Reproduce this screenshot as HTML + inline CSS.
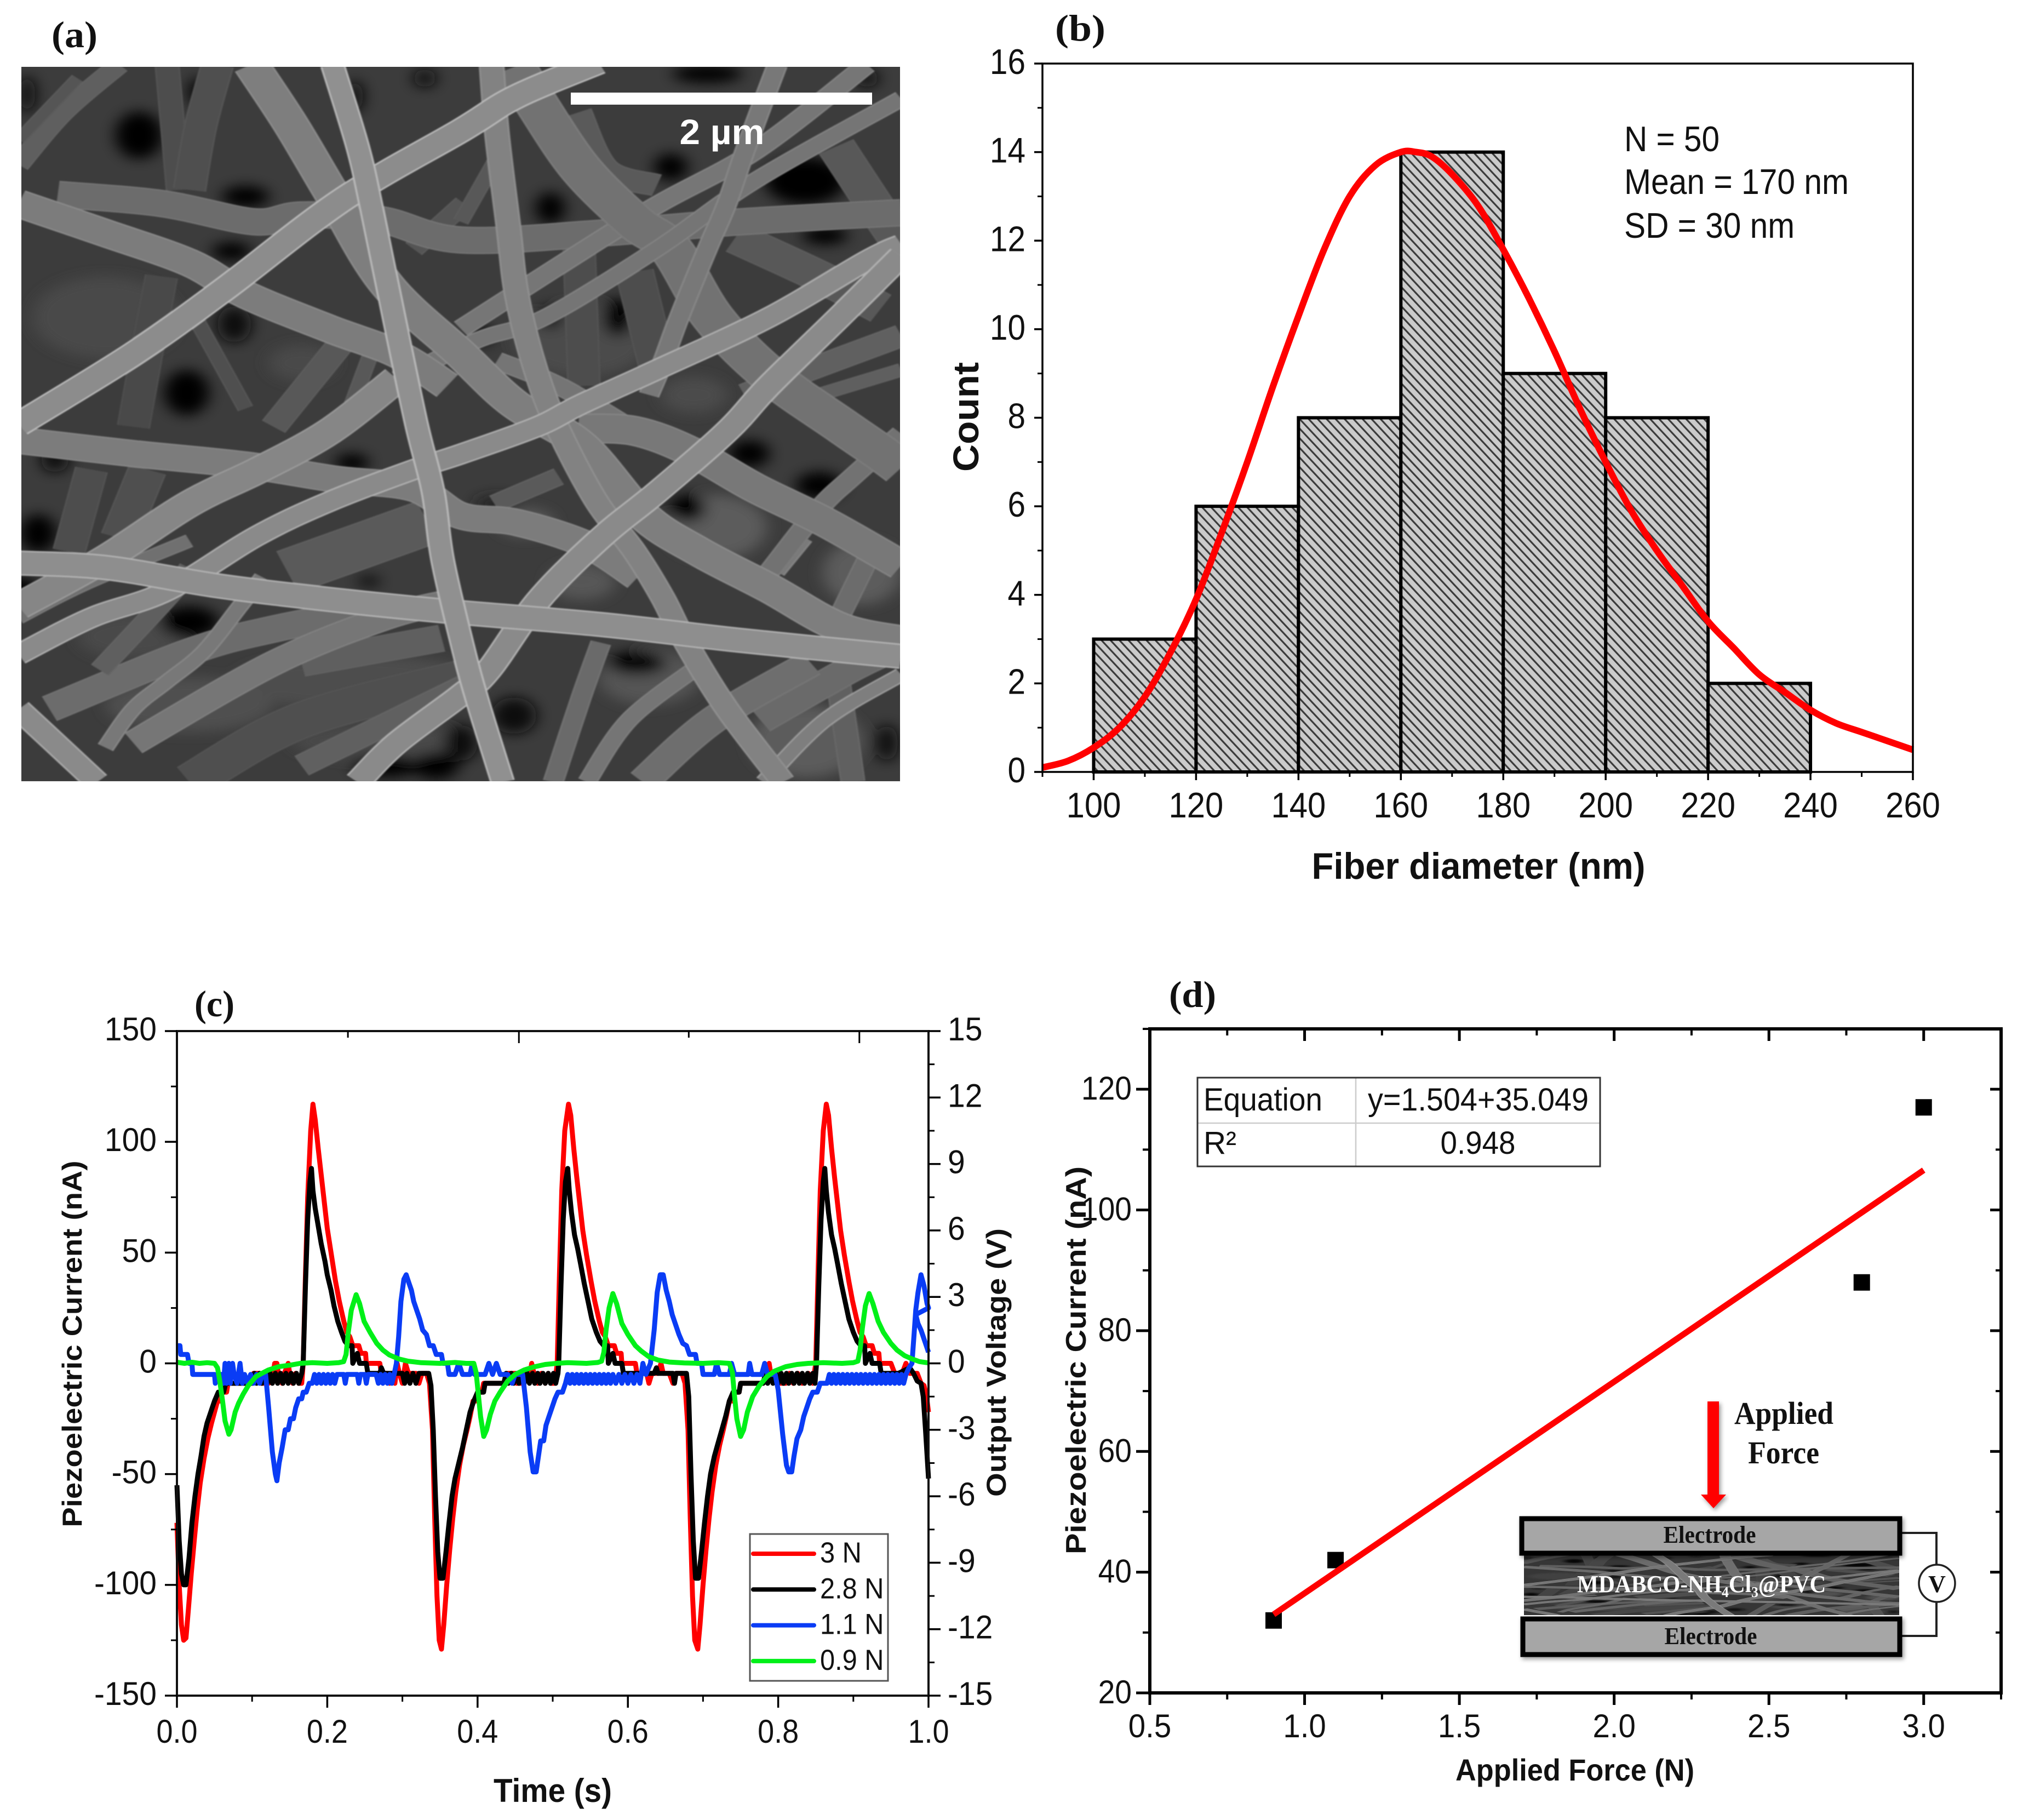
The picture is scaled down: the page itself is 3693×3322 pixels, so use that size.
<!DOCTYPE html>
<html lang="en">
<head>
<meta charset="utf-8">
<title>Fiber characterization and piezoelectric response</title>
<style>
html,body{margin:0;padding:0;background:#fff}
svg{display:block}
text{font-family:"Liberation Sans",sans-serif;fill:#111}
.serif{font-family:"Liberation Serif",serif;font-weight:bold}
.bold{font-weight:bold}
</style>
</head>
<body>
<svg id="fig" xmlns="http://www.w3.org/2000/svg" width="3693" height="3322" viewBox="0 0 3693 3322">
<defs>
  <pattern id="hatch" width="12" height="12" patternUnits="userSpaceOnUse" patternTransform="rotate(-43)">
    <rect width="12" height="12" fill="#cbcbcb"/>
    <rect x="0" width="3.2" height="12" fill="#3a3a3a"/>
  </pattern>
  <filter id="fiber-blur" x="-5%" y="-5%" width="110%" height="110%"><feGaussianBlur stdDeviation="1.3"/></filter>
  <filter id="patch-blur" x="-20%" y="-20%" width="140%" height="140%"><feGaussianBlur stdDeviation="14"/></filter>
  <filter id="shadow" x="-10%" y="-10%" width="120%" height="120%"><feDropShadow dx="3" dy="4" stdDeviation="4" flood-color="#000" flood-opacity=".4"/></filter>
  <clipPath id="sem-clip"><rect x="0" y="0" width="1568" height="1568"/></clipPath>
  <g id="sem-image" clip-path="url(#sem-clip)">
    <rect x="0" y="0" width="1568" height="1568" fill="#3c3c3c"/>
    <g id="sem-patches" filter="url(#patch-blur)"></g>
    <g id="sem-fibers" filter="url(#fiber-blur)"></g>
  </g>
</defs>

<!-- panel a -->
<text class="serif" x="94" y="86" font-size="68" textLength="84" lengthAdjust="spacingAndGlyphs">(a)</text>
<use href="#sem-image" transform="translate(39,122) scale(1.023,.8316)"/>
<rect x="1042" y="169" width="550" height="22" fill="#fff"/>
<text class="bold" x="1318" y="263" text-anchor="middle" font-size="64" style="fill:#fff" textLength="155" lengthAdjust="spacingAndGlyphs">2 µm</text>

<!-- panel b -->
<text class="serif" x="1926" y="74" font-size="68" textLength="92" lengthAdjust="spacingAndGlyphs">(b)</text>
<g id="chart-b"></g>
<text class="bold" transform="translate(1786,761) rotate(-90)" text-anchor="middle" font-size="66" textLength="200" lengthAdjust="spacingAndGlyphs">Count</text>
<text class="bold" x="2699" y="1604" text-anchor="middle" font-size="68" textLength="609" lengthAdjust="spacingAndGlyphs">Fiber diameter (nm)</text>
<text x="2965" y="276" font-size="65" textLength="174" lengthAdjust="spacingAndGlyphs">N = 50</text>
<text x="2965" y="354" font-size="65" textLength="410" lengthAdjust="spacingAndGlyphs">Mean = 170 nm</text>
<text x="2965" y="434" font-size="65" textLength="311" lengthAdjust="spacingAndGlyphs">SD = 30 nm</text>

<!-- panel c -->
<text class="serif" x="355" y="1855" font-size="68" textLength="73" lengthAdjust="spacingAndGlyphs">(c)</text>
<g id="chart-c"></g>
<text class="bold" transform="translate(149,2453) rotate(-90)" text-anchor="middle" font-size="50" textLength="669" lengthAdjust="spacingAndGlyphs">Piezoelectric Current (nA)</text>
<text class="bold" transform="translate(1836,2487) rotate(-90)" text-anchor="middle" font-size="50" textLength="490" lengthAdjust="spacingAndGlyphs">Output Voltage (V)</text>
<text class="bold" x="1009" y="3289" text-anchor="middle" font-size="60" textLength="216" lengthAdjust="spacingAndGlyphs">Time (s)</text>
<g>
  <rect x="1369" y="2800" width="252" height="268" fill="#fff" stroke="#555" stroke-width="3"/>
  <g id="legend-entries"></g>
</g>

<!-- panel d -->
<text class="serif" x="2134" y="1838" font-size="68" textLength="86" lengthAdjust="spacingAndGlyphs">(d)</text>
<g id="chart-d"></g>
<text class="bold" transform="translate(1982,2483) rotate(-90)" text-anchor="middle" font-size="52" textLength="708" lengthAdjust="spacingAndGlyphs">Piezoelectric Current (nA)</text>
<text class="bold" x="2875" y="3250" text-anchor="middle" font-size="56" textLength="436" lengthAdjust="spacingAndGlyphs">Applied Force (N)</text>
<g>
  <rect x="2186" y="1967" width="735" height="162" fill="#fff"/>
  <line x1="2186" y1="2050" x2="2921" y2="2050" stroke="#ccc" stroke-width="2.5"/>
  <line x1="2475" y1="1967" x2="2475" y2="2129" stroke="#ccc" stroke-width="2.5"/>
  <rect x="2186" y="1967" width="735" height="162" fill="none" stroke="#333" stroke-width="3"/>
  <text x="2197" y="2027" font-size="58" textLength="217" lengthAdjust="spacingAndGlyphs">Equation</text>
  <text x="2497" y="2027" font-size="58" textLength="403" lengthAdjust="spacingAndGlyphs">y=1.504+35.049</text>
  <text x="2197" y="2106" font-size="58" textLength="60" lengthAdjust="spacingAndGlyphs">R²</text>
  <text x="2698" y="2106" text-anchor="middle" font-size="58" textLength="137" lengthAdjust="spacingAndGlyphs">0.948</text>
</g>
<g>
  <g filter="url(#shadow)">
    <polygon points="3117,2558 3138,2558 3138,2728 3151,2728 3128,2753 3105,2728 3117,2728" fill="#f00"/>
  </g>
  <text class="serif" x="3166" y="2599" font-size="58" textLength="181" lengthAdjust="spacingAndGlyphs">Applied</text>
  <text class="serif" x="3191" y="2671" font-size="58" textLength="130" lengthAdjust="spacingAndGlyphs">Force</text>
  <path d="M3472 2798H3535V2857M3535 2924V2986H3472" fill="none" stroke="#222" stroke-width="4"/>
  <ellipse cx="3536" cy="2890" rx="33" ry="34" fill="#fff" stroke="#222" stroke-width="3.5"/>
  <text class="serif" x="3536" y="2906" text-anchor="middle" font-size="44">V</text>
  <rect x="2782" y="2839" width="685" height="109" fill="#222"/>
  <use href="#sem-image" transform="translate(2782,2839) scale(.4369,.0695)" opacity=".8"/>
  <text class="serif" transform="translate(2879,2906) scale(.94,1)" font-size="44" style="fill:#fff">MDABCO-NH<tspan dy="9" font-size="27" style="fill:#fff">4</tspan><tspan dy="-9" style="fill:#fff">Cl</tspan><tspan dy="9" font-size="27" style="fill:#fff">3</tspan><tspan dy="-9" style="fill:#fff">@PVC</tspan></text>
  <g filter="url(#shadow)">
    <rect x="2778" y="2772" width="690" height="63" fill="#a6a6a6" stroke="#000" stroke-width="9"/>
    <rect x="2780" y="2955" width="688" height="65" fill="#a6a6a6" stroke="#000" stroke-width="9"/>
  </g>
  <text class="serif" x="3121" y="2816" text-anchor="middle" font-size="44" textLength="169" lengthAdjust="spacingAndGlyphs">Electrode</text>
  <text class="serif" x="3123" y="3001" text-anchor="middle" font-size="44" textLength="169" lengthAdjust="spacingAndGlyphs">Electrode</text>
</g>

<script>
/* ---------- panel b data ---------- */
const binStarts = [100,120,140,160,180,200,220];
const binCounts = [3,6,8,14,9,8,2];
const binSpan = 20;
const fitDiameter = [90,95,100,105,110,115,120,125,130,135,140,145,150,155,160,163,166,170,175,180,185,190,195,200,205,210,215,220,225,230,235,240,245,250,255,260];
const fitCount = [0.1,0.25,0.55,1.0,1.7,2.7,3.9,5.4,7.0,8.7,10.3,11.8,13.0,13.7,14.0,14.0,13.9,13.5,12.8,11.8,10.7,9.5,8.2,7.0,5.9,5.0,4.2,3.4,2.8,2.2,1.8,1.4,1.1,0.9,0.7,0.5];
const xTicksB = [100,120,140,160,180,200,220,240,260];
const xMinorB = [90,110,130,150,170,190,210,230,250];
const yTicksB = [0,2,4,6,8,10,12,14,16];
const yMinorB = [1,3,5,7,9,11,13,15];

/* ---------- panel c data ---------- */
const xTicksC = ['0.0','0.2','0.4','0.6','0.8','1.0'];
const xMinorC = [0.1,0.3,0.5,0.7,0.9];
const topTicksC = [0.2275,0.455,0.681,0.908];
const yTicksC = [-150,-100,-50,0,50,100,150];
const yMinorC = [-125,-75,-25,25,75,125];
const yTicksVolt = [-15,-12,-9,-6,-3,0,3,6,9,12,15];
const yMinorVolt = [-13.5,-10.5,-7.5,-4.5,-1.5,1.5,4.5,7.5,10.5,13.5];
const legendLabels = ['3 N','2.8 N','1.1 N','0.9 N'];
const seriesColors = ['#ff0000','#000000','#0a3cf5','#00f018'];

const series3N = [[0,-72],[.003,-100],[.006,-118],[.009,-125],[.012,-124],[.015,-112],[.019,-95],[.023,-80],[.027,-66],[.031,-54],[.036,-43],[.041,-34],[.046,-27],[.05,-22],[.054,-17],[.058,-17],[.06,-13],[.066,-13],[.068,-9],[.082,-9],[.1,-9],[.102,-4.5],[.11,-4.5],[.112,-9],[.122,-9],[.124,-4.5],[.128,-4.5],[.13,0],[.133,0],[.135,-4.5],[.14,-9],[.143,-4.5],[.148,0],[.15,-4.5],[.154,-9],[.158,-4.5],[.162,-9],[.166,-9],[.168,0],[.171,40],[.174,75],[.178,105],[.181,117],[.184,110],[.188,97],[.192,85],[.196,73],[.2,61],[.205,50],[.211,37],[.216,28],[.222,19],[.226,14],[.23,12],[.234,8],[.242,8],[.245,4.5],[.251,4.5],[.252,0],[.27,0],[.272,-4.5],[.28,-4.5],[.283,-9],[.286,-4.5],[.29,-9],[.293,0],[.296,-4.5],[.3,-9],[.304,0],[.308,-4.5],[.318,-4.5],[.322,-9],[.326,-4.5],[.332,-4.5],[.336,-9],[.34,-30],[.343,-70],[.346,-105],[.349,-125],[.352,-129],[.355,-118],[.359,-100],[.363,-84],[.367,-70],[.371,-58],[.376,-46],[.381,-37],[.386,-30],[.39,-24],[.394,-17],[.398,-17],[.4,-13],[.406,-13],[.408,-9],[.42,-9],[.436,-9],[.44,-4.5],[.45,-4.5],[.452,-9],[.46,-9],[.463,-4.5],[.47,-4.5],[.472,0],[.475,-4.5],[.48,-9],[.485,-4.5],[.49,-9],[.494,-4.5],[.498,-9],[.503,-9],[.506,0],[.509,40],[.512,78],[.516,105],[.521,117],[.524,112],[.528,97],[.532,84],[.536,72],[.54,60],[.545,49],[.551,37],[.556,28],[.562,19],[.566,14],[.57,12],[.574,8],[.582,8],[.585,4.5],[.591,4.5],[.592,0],[.61,0],[.612,-4.5],[.625,-4.5],[.628,-9],[.632,-4.5],[.64,-4.5],[.644,0],[.647,-4.5],[.655,-4.5],[.66,-9],[.664,-4.5],[.672,-4.5],[.676,-9],[.68,-30],[.683,-70],[.686,-105],[.689,-125],[.693,-129],[.696,-118],[.7,-100],[.704,-84],[.708,-70],[.712,-58],[.717,-46],[.722,-37],[.727,-30],[.731,-24],[.735,-17],[.74,-17],[.742,-13],[.748,-13],[.75,-9],[.78,-9],[.784,-4.5],[.788,0],[.79,-4.5],[.8,-4.5],[.803,-9],[.81,-9],[.815,-4.5],[.82,-9],[.826,-4.5],[.832,-9],[.84,-4.5],[.846,-9],[.85,0],[.853,40],[.856,78],[.86,105],[.864,117],[.867,112],[.871,97],[.875,84],[.879,72],[.883,60],[.888,49],[.894,37],[.899,28],[.905,19],[.909,14],[.913,12],[.917,8],[.925,8],[.928,4.5],[.934,4.5],[.935,0],[.95,0],[.955,-4.5],[.965,-4.5],[.97,0],[.975,-4.5],[.985,-4.5],[.99,-9],[.994,-10],[.997,-14],[1,-22]];

const series28N = [[0,-55],[.003,-80],[.006,-95],[.009,-100],[.012,-100],[.016,-88],[.02,-72],[.024,-60],[.028,-50],[.032,-42],[.036,-33],[.04,-27],[.045,-22],[.05,-17],[.055,-13],[.062,-13],[.065,-9],[.08,-9],[.1,-9],[.103,-4.5],[.106,-9],[.11,-4.5],[.113,-9],[.117,-4.5],[.12,-9],[.124,-4.5],[.127,-9],[.131,-4.5],[.134,-9],[.138,-4.5],[.141,-9],[.145,-4.5],[.148,-9],[.152,-4.5],[.155,-9],[.159,-4.5],[.162,-9],[.166,-4.5],[.168,0],[.171,35],[.174,65],[.177,82],[.179,88],[.181,78],[.184,70],[.188,62],[.192,54],[.197,46],[.2,40],[.205,33],[.209,26],[.214,19],[.219,14],[.2235,10],[.228,8],[.233,8],[.234,0],[.24,4.5],[.243,0],[.252,0],[.254,-4.5],[.27,-4.5],[.272,-2],[.275,-4.5],[.3,-4.5],[.303,-9],[.306,-4.5],[.31,-9],[.314,-4.5],[.318,-9],[.322,-4.5],[.335,-4.5],[.338,-10],[.341,-30],[.344,-60],[.347,-85],[.35,-97],[.354,-97],[.358,-85],[.362,-72],[.366,-60],[.37,-52],[.375,-45],[.38,-38],[.385,-30],[.39,-22],[.395,-17],[.4,-13],[.408,-13],[.41,-9],[.42,-9],[.435,-9],[.438,-4.5],[.441,-9],[.445,-4.5],[.448,-9],[.452,-4.5],[.455,-9],[.459,-4.5],[.462,-9],[.466,-4.5],[.469,-9],[.473,-4.5],[.476,-9],[.48,-4.5],[.483,-9],[.487,-4.5],[.49,-9],[.494,-4.5],[.497,-9],[.501,-4.5],[.504,-9],[.507,-4.5],[.508,0],[.511,35],[.514,65],[.517,82],[.52,88],[.522,78],[.525,68],[.529,58],[.533,52],[.537,45],[.542,36],[.547,28],[.552,20],[.558,14],[.563,10],[.568,8],[.573,8],[.574,0],[.58,4.5],[.583,0],[.592,0],[.594,-4.5],[.61,-4.5],[.635,-4.5],[.638,-2],[.64,-4.5],[.66,-4.5],[.662,-9],[.664,-4.5],[.678,-4.5],[.681,-15],[.684,-50],[.687,-80],[.69,-97],[.694,-97],[.698,-85],[.702,-72],[.706,-60],[.71,-50],[.715,-42],[.72,-36],[.725,-30],[.73,-24],[.735,-17],[.74,-13],[.748,-13],[.75,-9],[.78,-9],[.783,-4.5],[.786,-9],[.79,-4.5],[.793,-9],[.797,-4.5],[.8,-9],[.804,-4.5],[.807,-9],[.811,-4.5],[.814,-9],[.818,-4.5],[.821,-9],[.825,-4.5],[.828,-9],[.832,-4.5],[.835,-9],[.839,-4.5],[.842,-9],[.846,-4.5],[.849,-9],[.851,0],[.854,35],[.857,65],[.86,82],[.862,88],[.864,78],[.867,68],[.871,58],[.875,52],[.879,45],[.884,36],[.889,28],[.894,20],[.9,14],[.905,10],[.91,8],[.915,8],[.916,0],[.922,4.5],[.925,0],[.935,0],[.937,-4.5],[.96,-4.5],[.975,-2],[.98,-4.5],[.985,-8],[.99,-9],[.993,-15],[.996,-30],[1,-52]];

const series11N = [[0,8],[.004,8],[.005,4],[.012,4],[.014,4],[.016,0],[.02,0],[.021,-5],[.05,-5],[.051,-9],[.053,-5],[.06,-5],[.062,-9],[.064,0],[.066,-9],[.069,0],[.071,-9],[.074,0],[.076,-5],[.08,-9],[.084,0],[.087,-9],[.09,-5],[.094,-9],[.098,-5],[.102,-9],[.106,-5],[.11,-9],[.114,-5],[.118,-5],[.122,-20],[.127,-40],[.131,-50],[.133,-53],[.136,-45],[.14,-38],[.144,-30],[.148,-30],[.151,-25],[.155,-25],[.158,-20],[.162,-16],[.166,-16],[.168,-13],[.172,-13],[.176,-9],[.18,-9],[.183,-5],[.186,-9],[.189,-5],[.192,-9],[.195,-5],[.198,-9],[.201,-5],[.204,-9],[.207,-5],[.21,-9],[.213,-5],[.222,-5],[.224,-9],[.226,-5],[.24,-5],[.242,-9],[.244,-5],[.25,-5],[.252,-9],[.254,-5],[.265,-5],[.268,-9],[.271,-5],[.274,-9],[.277,-5],[.28,-9],[.283,-5],[.286,-9],[.289,-5],[.292,0],[.295,12],[.298,28],[.302,38],[.305,40],[.309,36],[.312,33],[.315,28],[.319,24],[.323,20],[.327,15],[.332,13],[.336,8],[.341,8],[.345,4],[.352,4],[.354,0],[.36,0],[.362,-5],[.37,-5],[.375,0],[.38,-5],[.39,-5],[.393,0],[.396,-5],[.41,-5],[.415,0],[.42,-5],[.425,0],[.43,-5],[.44,-5],[.446,-9],[.45,-5],[.46,-5],[.465,-20],[.47,-40],[.474,-49],[.478,-49],[.481,-42],[.484,-35],[.488,-35],[.491,-28],[.495,-24],[.499,-20],[.503,-16],[.507,-13],[.513,-13],[.517,-9],[.52,-5],[.523,-9],[.526,-5],[.529,-9],[.532,-5],[.535,-9],[.538,-5],[.541,-9],[.544,-5],[.547,-9],[.55,-5],[.553,-9],[.556,-5],[.559,-9],[.562,-5],[.565,-9],[.568,-5],[.571,-9],[.574,-5],[.577,-9],[.58,-5],[.584,-9],[.588,-5],[.592,-9],[.596,-5],[.6,-9],[.604,-5],[.608,-9],[.612,-5],[.616,-9],[.62,0],[.624,-5],[.63,0],[.635,15],[.639,32],[.643,40],[.647,40],[.651,33],[.655,28],[.659,22],[.664,17],[.668,13],[.673,9],[.678,8],[.682,4],[.69,4],[.692,0],[.698,0],[.7,-5],[.715,-5],[.718,0],[.722,-5],[.735,-5],[.738,0],[.742,-5],[.76,-5],[.762,0],[.765,-5],[.778,-5],[.782,0],[.786,-5],[.796,-5],[.8,-12],[.806,-32],[.811,-46],[.814,-49],[.818,-49],[.821,-42],[.825,-34],[.83,-30],[.834,-24],[.838,-20],[.842,-16],[.846,-13],[.852,-13],[.856,-9],[.865,-9],[.868,-5],[.871,-9],[.874,-5],[.877,-9],[.88,-5],[.883,-9],[.886,-5],[.889,-9],[.892,-5],[.895,-9],[.898,-5],[.901,-9],[.904,-5],[.907,-9],[.91,-5],[.913,-9],[.916,-5],[.919,-9],[.922,-5],[.925,-9],[.928,-5],[.931,-9],[.934,-5],[.937,-9],[.94,-5],[.943,-9],[.946,-5],[.949,-9],[.952,-5],[.955,-9],[.958,-5],[.961,-9],[.964,-5],[.967,-9],[.97,-5],[.974,-2],[.978,0],[.981,14],[.983,24],[.986,32],[.99,40],[.994,35],[.998,27],[1,25],[.983,22],[.986,18],[.99,15],[.994,11],[.998,7],[1,5]];

const series09N = [[0,.5],[.01,0],[.02,.5],[.03,0],[.04,.3],[.05,0],[.054,-2],[.057,-8],[.0607,-17],[.064,-26],[.0691,-32],[.072,-30],[.0775,-22],[.082,-18],[.088,-14],[.095,-10],[.105,-6],[.113,-4.5],[.1216,-3],[.135,-1.5],[.151,-.8],[.164,0],[.18,.3],[.2,0],[.215,.3],[.2218,.8],[.225,4],[.228,14],[.232,24],[.2384,31],[.243,27],[.249,19],[.257,14],[.2659,9],[.274,6],[.2826,3.8],[.295,2],[.3075,1],[.325,.3],[.35,0],[.37,.4],[.385,0],[.395,0],[.398,-4],[.401,-14],[.404,-24],[.4082,-33],[.412,-30],[.417,-23],[.423,-17],[.43,-13],[.44,-8],[.45,-5],[.462,-3],[.476,-1.5],[.49,-.5],[.505,0],[.52,.3],[.545,0],[.56,.4],[.565,1],[.568,5],[.571,15],[.575,25],[.58,31.5],[.585,27],[.592,18],[.6,13],[.61,8],[.618,5.5],[.628,3],[.64,1.5],[.655,.6],[.675,.2],[.7,0],[.72,.3],[.735,0],[.739,-4],[.742,-15],[.745,-25],[.75,-33],[.754,-30],[.759,-22],[.766,-15],[.775,-10],[.785,-6],[.795,-3.5],[.81,-1.5],[.825,-.5],[.84,0],[.86,.3],[.885,0],[.9,.3],[.906,1],[.909,6],[.912,16],[.916,26],[.921,31.5],[.926,27],[.933,19],[.94,14],[.95,9],[.958,6],[.968,3.5],[.978,2],[.988,.8],[1,.2]];

/* ---------- panel d data ---------- */
const forceValues = [0.9,1.1,2.8,3.0];
const currentValues = [32,42,88,117];
const fitForce = [0.9,3.0];
const fitCurrent = [33,106.6];
const xTicksD = ['0.5','1.0','1.5','2.0','2.5','3.0'];
const xMinorD = [0.75,1.25,1.75,2.25,2.75,3.25];
const yTicksD = [20,40,60,80,100,120];
const yMinorD = [30,50,70,90,110,130];

/* ---------- micrograph (illustration, 1568-unit square mapped to the image box) ---------- */
const semPatches = [
 [1240,1010,90,70,'#5c5c5c'],[1500,1110,70,70,'#5c5c5c'],[1400,1480,100,80,'#5c5c5c'],[1000,1130,60,40,'#565656'],[900,1000,50,30,'#5c5c5c'],[1120,1340,90,60,'#555'],[600,1350,220,60,'#4e4e4e'],[300,1400,150,60,'#505050'],[200,1250,100,50,'#4a4a4a'],[1000,600,120,80,'#4c4c4c'],[1200,720,60,40,'#4c4c4c'],[500,650,60,40,'#4a4a4a'],[150,550,130,90,'#484848'],[640,1480,160,40,'#484848'],
 [210,150,42,52,'#000'],[400,285,42,24,'#000'],[375,405,35,20,'#000'],[380,565,30,40,'#111'],[295,715,40,50,'#000'],[10,60,15,40,'#111'],[315,55,16,32,'#000'],[595,65,15,35,'#111'],[720,25,20,20,'#111'],
 [1399,250,72,52,'#000'],[1224,15,62,20,'#000'],[944,310,26,35,'#000'],[1159,220,30,30,'#000'],[1434,370,40,20,'#000'],[1064,550,26,42,'#000'],[944,550,20,25,'#000'],[1509,25,20,20,'#111'],[820,590,20,20,'#000'],
 [30,1024,32,42,'#000'],[300,1219,52,35,'#000'],[590,869,30,20,'#000'],[0,1150,30,30,'#000'],[650,1534,60,25,'#000'],[620,1129,20,10,'#000'],[740,1534,40,30,'#000'],[60,860,25,30,'#111'],
 [1299,849,36,30,'#000'],[1424,919,42,30,'#000'],[1189,969,32,30,'#000'],[1099,1309,52,25,'#000'],[879,1424,40,40,'#111'],[784,1484,30,40,'#111'],[1544,1484,20,40,'#111'],[850,960,40,18,'#222']
];
const semFiberStrands = [
 [45,'#4e4e4e','#525252',[260,-5,270,130,280,270]],
 [60,'#505050','#545454',[350,-5,320,130,300,270]],
 [40,'#5e5e5e','#646464',[175,-5,75,100,-5,215]],
 [25,'#555','#5a5a5a',[100,25,-5,160]],
 [60,'#4a4a4a','#4e4e4e',[250,460,225,620,200,790]],
 [30,'#505050','#545454',[310,550,400,750]],
 [50,'#585858','#5c5c5c',[575,600,450,790]],
 [30,'#585858','#5c5c5c',[625,625,575,790]],
 [40,'#555','#5a5a5a',[700,400,790,300]],
 [30,'#585858','#5c5c5c',[784,340,844,210]],
 [60,'#4e4e4e','#525252',[994,350,1004,700]],
 [70,'#4e4e4e','#525252',[1094,450,1134,650]],
 [50,'#5a5a5a','#5e5e5e',[994,100,1044,225,1134,260]],
 [70,'#585858','#5c5c5c',[1454,175,1534,325,1570,390]],
 [70,'#585858','#5c5c5c',[1274,375,1424,460,1534,530]],
 [50,'#606060','#646464',[1570,590,1384,675,1290,720]],
 [30,'#5e5e5e','#626262',[1570,665,1409,725]],
 [60,'#4e4e4e','#525252',[125,884,85,1064]],
 [70,'#505050','#545454',[225,884,175,1034]],
 [80,'#4f4f4f','#535353',[300,1570,500,1434,790,1340]],
 [50,'#606060','#646464',[500,1534,790,1359]],
 [60,'#5e5e5e','#626262',[500,1309,750,1254]],
 [60,'#6c6c6c','#727272',[50,1409,300,1284,450,1234,640,1190]],
 [40,'#5e5e5e','#646464',[140,1324,265,1159,300,1100]],
 [100,'#5a5a5a','#5e5e5e',[475,1109,725,999]],
 [55,'#767676','#808080',[200,1484,450,1309,650,1209,780,1170]],
 [32,'#787878','#868686',[150,1494,200,1409,260,1349,325,1284,390,1184,430,1120]],
 [30,'#707070','#787878',[-5,1209,115,1134,300,1040]],
 [45,'#606060','#666',[1484,1570,1459,1359]],
 [60,'#6a6a6a','#707070',[1319,1434,1484,1319,1570,1270]],
 [60,'#6e6e6e','#767676',[1409,1309,1234,1434,1109,1570]],
 [35,'#747474','#7e7e7e',[1204,1319,1084,1434,1009,1570]],
 [38,'#6a6a6a','#727272',[1034,1264,999,1384,949,1570]],
 [40,'#6c6c6c','#747474',[1459,1209,1509,1084]],
 [30,'#7a7a7a','#848484',[1349,1109,1399,1034]],
 [40,'#5a5a5a','#606060',[844,959,959,899]],
 [40,'#727272','#7c7c7c',[1570,805,1484,899,1424,969,1334,1109]],
 [32,'#7e7e7e','#9c9c9c',[1570,1334,1434,1434,1324,1570]],
 [60,'#6c6c6c','#747474',[65,280,250,300,415,340,500,325,640,335,784,380,1034,365,1284,340,1570,320]],
 [40,'#767676','#828282',[784,575,1104,325,1309,185,1509,-5]],
 [80,'#727272','#7c7c7c',[880,0,924,90,999,225,1094,340,1159,400,1234,550,1334,675,1459,784,1530,844,1570,880]],
 [36,'#747474','#828282',[670,685,814,600,934,550,1134,400,1309,250,1570,70]],
 [38,'#787878','#868686',[1349,-5,1294,175,1259,300,1224,400,1174,550,1144,650,1120,720]],
 [40,'#747474','#7e7e7e',[849,645,959,700,1084,790]],
 [66,'#787878','#848484',[994,794,1094,799,1194,844,1309,924,1434,999,1570,1094]],
 [60,'#7c7c7c','#868686',[-5,820,200,849,400,874,560,905,700,925,784,985,884,1000,1009,1049,1100,1120]],
 [62,'#7c7c7c','#8a8a8a',[-5,300,150,365,300,430,400,500,550,575,670,630,760,700]],
 [66,'#7e7e7e','#8c8c8c',[410,-5,480,125,550,270,650,475,784,630,880,740,999,830,1109,984,1209,1064,1334,1144,1459,1229,1570,1259]],
 [46,'#828282','#909090',[839,-5,849,150,869,350,884,500,914,650,954,784,1024,949,1094,1064,1144,1164,1184,1260,1259,1409,1359,1570]],
 [60,'#868686','#9a9a9a',[-5,1184,150,1079,300,959,425,884,550,800,670,685]],
 [48,'#8a8a8a','#aaaaaa',[-5,1410,60,1484,135,1570]],
 [46,'#8a8a8a','#b0b0b0',[-5,1290,125,1209,260,1150,420,1030,550,954,700,884,784,850,920,790,1000,740,1134,665,1334,550,1509,425,1570,390]],
 [50,'#8a8a8a','#b4b4b4',[1570,415,1459,550,1334,700,1259,800,1134,934,1034,1034,924,1169,834,1324,784,1379,670,1484,600,1570]],
 [55,'#8e8e8e','#b4b4b4',[-5,1089,150,1099,350,1139,550,1169,750,1194,1034,1224,1284,1259,1570,1294]],
 [54,'#8c8c8c','#bcbcbc',[-5,785,200,630,360,490,575,290,784,140,884,65,1030,-10]],
 [44,'#909090','#bcbcbc',[555,-5,600,175,625,310,665,550,705,784,735,934,752,1084,790,1284,816,1400,859,1570]]
];

/* ---------- helpers ---------- */
const NS = 'http://www.w3.org/2000/svg';
function mk(tag, attrs, parent) {
  const e = document.createElementNS(NS, tag);
  for (const k in attrs) e.setAttribute(k, attrs[k]);
  parent.appendChild(e);
  return e;
}
function seg(parent, x1, y1, x2, y2, w, color) {
  return mk('line', {x1, y1, x2, y2, stroke: color || '#000', 'stroke-width': w}, parent);
}
function lbl(parent, x, y, str, anchor, size, sx) {
  const e = mk('text', {transform: 'translate(' + x + ',' + y + ') scale(' + sx + ',1)', 'text-anchor': anchor, 'font-size': size}, parent);
  e.textContent = str;
  return e;
}
function pts(arr, fx, fy) {
  return arr.map(p => fx(p[0]).toFixed(1) + ',' + fy(p[1]).toFixed(1)).join(' ');
}
function smoothThrough(p) {
  let d = 'M' + p[0][0].toFixed(1) + ' ' + p[0][1].toFixed(1);
  for (let i = 0; i < p.length - 1; i++) {
    const a = p[Math.max(i - 1, 0)], b = p[i], c = p[i + 1], e = p[Math.min(i + 2, p.length - 1)];
    d += 'C' + (b[0] + (c[0] - a[0]) / 6).toFixed(1) + ' ' + (b[1] + (c[1] - a[1]) / 6).toFixed(1) + ' ' +
         (c[0] - (e[0] - b[0]) / 6).toFixed(1) + ' ' + (c[1] - (e[1] - b[1]) / 6).toFixed(1) + ' ' +
         c[0].toFixed(1) + ' ' + c[1].toFixed(1);
  }
  return d;
}

/* ---------- micrograph ---------- */
const semPatchGroup = document.getElementById('sem-patches');
semPatches.forEach(p => {
  const el = mk('ellipse', {cx: p[0], cy: p[1], rx: p[2], ry: p[3], fill: p[4]}, semPatchGroup);
  
  
});
const semGroup = document.getElementById('sem-fibers');
semFiberStrands.forEach(s => {
  const c = s[3], list = [];
  for (let i = 0; i < c.length; i += 2) list.push([c[i], c[i + 1]]);
  const d = smoothThrough(list);
  const edge = mk('path', {d, fill: 'none', stroke: s[2], 'stroke-width': s[0]}, semGroup);
  
  
  const core = mk('path', {d, fill: 'none', stroke: s[1], 'stroke-width': Math.max(s[0] - 6, 6)}, semGroup);
  
  
});

/* ---------- panel b ---------- */
(function () {
  const root = document.getElementById('chart-b');
  const L = 1903, R = 3492, T = 116, B = 1409;
  const x = v => L + (v - 90) / 170 * (R - L);
  const y = v => B - v / 16 * (B - T);
  binStarts.forEach((s, i) => {
    const el = mk('rect', {x: x(s), y: y(binCounts[i]), width: x(s + binSpan) - x(s), height: B - y(binCounts[i]), fill: 'url(#hatch)', stroke: '#000', 'stroke-width': 6}, root);
    
    
  });
  const curve = mk('path', {d: smoothThrough(fitDiameter.map((d, i) => [x(d), y(fitCount[i])])), fill: 'none', stroke: '#f00', 'stroke-width': 12}, root);
  
  
  const frame = mk('rect', {x: L, y: T, width: R - L, height: B - T, fill: 'none', stroke: '#000', 'stroke-width': 3.5}, root);
  
  
  xTicksB.forEach(v => {
    const t = seg(root, x(v), B, x(v), B + 15, 3.5);
    
    
    const l = lbl(root, x(v), 1492, String(v), 'middle', 65, 0.92);
    
    
  });
  xMinorB.forEach(v => {
    const t = seg(root, x(v), B, x(v), B + 9, 3);
    
    
  });
  yTicksB.forEach(v => {
    const t = seg(root, L - 15, y(v), L, y(v), 3.5);
    
    
    const l = lbl(root, 1872, y(v) + 19, String(v), 'end', 65, 0.9);
    
    
  });
  yMinorB.forEach(v => {
    const t = seg(root, L - 9, y(v), L, y(v), 3);
    
    
  });
})();

/* ---------- panel c ---------- */
(function () {
  const root = document.getElementById('chart-c');
  const L = 323, R = 1695, T = 1882, B = 3095;
  const x = t => L + t * (R - L);
  const y = v => (T + B) / 2 - v * (B - T) / 300;
  const yv = v => (T + B) / 2 - v * (B - T) / 30;
  [series3N, series28N, series11N, series09N].forEach((s, i) => {
    const el = mk('polyline', {points: pts(s, x, y), fill: 'none', stroke: seriesColors[i], 'stroke-width': 9, 'stroke-linejoin': 'round'}, root);
    
    
  });
  const frame = mk('rect', {x: L, y: T, width: R - L, height: B - T, fill: 'none', stroke: '#111', 'stroke-width': 4}, root);
  
  
  xTicksC.forEach(s => {
    const v = parseFloat(s);
    const t = seg(root, x(v), B, x(v), B + 22, 3.5);
    
    
    const l = lbl(root, x(v), 3181, s, 'middle', 60, 0.9);
    
    
  });
  xMinorC.forEach(v => {
    const t = seg(root, x(v), B, x(v), B + 11, 3);
    
    
  });
  topTicksC.forEach((v, i) => {
    const t = seg(root, x(v), T, x(v), T + (i % 2 ? 22 : 12), 3);
    
    
  });
  yTicksC.forEach(v => {
    const t = seg(root, L - 22, y(v), L, y(v), 3.5);
    
    
    const l = lbl(root, 286, y(v) + 17, String(v), 'end', 60, 0.95);
    
    
  });
  yMinorC.forEach(v => {
    const t = seg(root, L - 11, y(v), L, y(v), 3);
    
    
  });
  yTicksVolt.forEach(v => {
    const t = seg(root, R, yv(v), R + 22, yv(v), 3.5);
    
    
    const l = lbl(root, 1730, yv(v) + 17, String(v), 'start', 60, 0.95);
    
    
  });
  yMinorVolt.forEach(v => {
    const t = seg(root, R, yv(v), R + 11, yv(v), 3);
    
    
  });
  const leg = document.getElementById('legend-entries');
  legendLabels.forEach((s, i) => {
    const ly = 2836 + i * 65.3;
    const m = mk('line', {x1: 1375, y1: ly, x2: 1486, y2: ly, stroke: seriesColors[i], 'stroke-width': 8, 'stroke-linecap': 'round'}, leg);
    
    
    const l = lbl(leg, 1497, ly + 16, s, 'start', 53, 0.92);
    
    
  });
})();

/* ---------- panel d ---------- */
(function () {
  const root = document.getElementById('chart-d');
  const L = 2099, R = 3653, T = 1878, B = 3090;
  const x = v => L + (v - 0.5) / 2.75 * (R - L);
  const y = v => B - (v - 20) / 110 * (B - T);
  const frame = mk('rect', {x: L, y: T, width: R - L, height: B - T, fill: 'none', stroke: '#000', 'stroke-width': 6}, root);
  
  
  xTicksD.forEach(s => {
    const v = parseFloat(s);
    const t = seg(root, x(v), B, x(v), B + 22, 5);
    
    
    const u = seg(root, x(v), T, x(v), T + 22, 5);
    
    
    const l = lbl(root, x(v), 3171, s, 'middle', 60, 0.94);
    
    
  });
  xMinorD.forEach(v => {
    const t = seg(root, x(v), B, x(v), B + 12, 4);
    
    
    const u = seg(root, x(v), T, x(v), T + 12, 4);
    
    
  });
  yTicksD.forEach(v => {
    const t = seg(root, L - 25, y(v), L, y(v), 5);
    
    
    const u = seg(root, R - 20, y(v), R, y(v), 5);
    
    
    const l = lbl(root, 2066, y(v) + 19, String(v), 'end', 60, 0.92);
    
    
  });
  yMinorD.forEach(v => {
    const t = seg(root, L - 13, y(v), L, y(v), 4);
    
    
    const u = seg(root, R - 10, y(v), R, y(v), 4);
    
    
  });
  forceValues.forEach((f, i) => {
    const el = mk('rect', {x: x(f) - 15, y: y(currentValues[i]) - 15, width: 30, height: 30, fill: '#000'}, root);
    
    
  });
  const fit = mk('line', {x1: x(fitForce[0]), y1: y(fitCurrent[0]), x2: x(fitForce[1]), y2: y(fitCurrent[1]), stroke: '#f00', 'stroke-width': 11}, root);
  
  
})();
</script>
</svg>
</body>
</html>
